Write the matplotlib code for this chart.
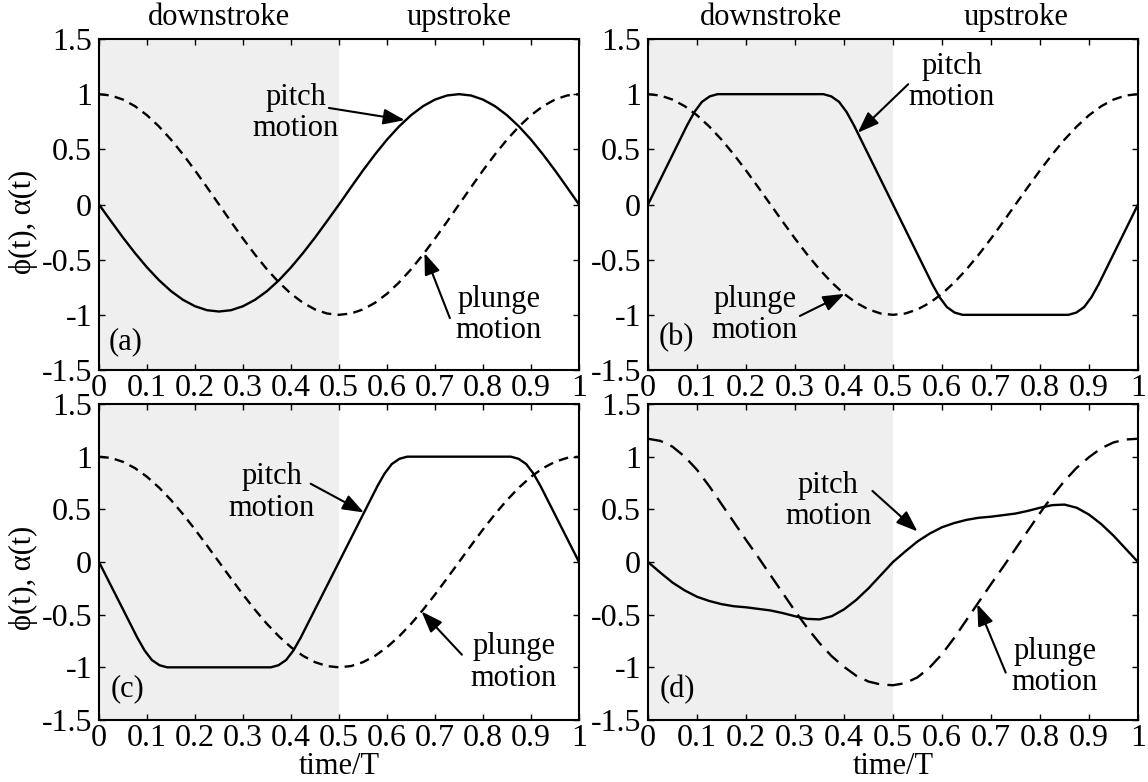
import matplotlib
matplotlib.use("Agg")
import matplotlib.pyplot as plt
import numpy as np

plt.rcParams.update({
    'font.family': ['Liberation Serif', 'DejaVu Serif'],
    'font.size': 22,
    'axes.linewidth': 1.5,
    'lines.scale_dashes': False,
})

# normalised time, 41 samples over one period
t = np.linspace(0, 1, 41)

plunge_sine = [1.0, 0.988, 0.951, 0.891, 0.809, 0.707, 0.588, 0.454, 0.309, 0.156,
               0.0, -0.156, -0.309, -0.454, -0.588, -0.707, -0.809, -0.891, -0.951, -0.988,
               -1.0, -0.988, -0.951, -0.891, -0.809, -0.707, -0.588, -0.454, -0.309, -0.156,
               0.0, 0.156, 0.309, 0.454, 0.588, 0.707, 0.809, 0.891, 0.951, 0.988, 1.0]

pitch_a = [0.0, -0.151, -0.30, -0.44, -0.57, -0.686, -0.785, -0.864, -0.922, -0.958,
           -0.97, -0.958, -0.922, -0.864, -0.785, -0.686, -0.57, -0.44, -0.30, -0.151,
           0.0, 0.156, 0.309, 0.454, 0.588, 0.707, 0.809, 0.891, 0.951, 0.988,
           1.0, 0.988, 0.951, 0.891, 0.809, 0.707, 0.588, 0.454, 0.309, 0.156, 0.0]

# trapezoidal pitch with rounded corners (own time samples)
t_trap = [0, 0.08, 0.095, 0.11, 0.126, 0.142, 0.358, 0.374, 0.39, 0.405, 0.42,
          0.58, 0.595, 0.61, 0.626, 0.642, 0.858, 0.874, 0.89, 0.905, 0.92, 1.0]
pitch_b = [0.0, 0.72, 0.84, 0.93, 0.98, 1.0, 1.0, 0.98, 0.93, 0.84, 0.72,
           -0.72, -0.84, -0.93, -0.98, -1.0, -1.0, -0.98, -0.93, -0.84, -0.72, 0.0]
pitch_c = [0.0, -0.72, -0.84, -0.93, -0.98, -1.0, -1.0, -0.98, -0.93, -0.84, -0.72,
           0.72, 0.84, 0.93, 0.98, 1.0, 1.0, 0.98, 0.93, 0.84, 0.72, 0.0]

pitch_d = [0.0, -0.10, -0.195, -0.27, -0.33, -0.37, -0.40, -0.42, -0.43, -0.445,
           -0.46, -0.485, -0.515, -0.54, -0.545, -0.515, -0.45, -0.36, -0.25, -0.125,
           0.0, 0.10, 0.195, 0.27, 0.33, 0.37, 0.40, 0.42, 0.43, 0.445,
           0.46, 0.485, 0.515, 0.54, 0.545, 0.515, 0.45, 0.36, 0.25, 0.125, 0.0]
plunge_d = [1.17, 1.15, 1.095, 1.0, 0.875, 0.72, 0.55, 0.38, 0.21, 0.045,
            -0.125, -0.295, -0.465, -0.625, -0.77, -0.895, -0.995, -1.08, -1.135, -1.163,
            -1.17, -1.15, -1.095, -1.0, -0.875, -0.72, -0.55, -0.38, -0.21, -0.045,
            0.125, 0.295, 0.465, 0.625, 0.77, 0.895, 0.995, 1.08, 1.135, 1.163, 1.17]

x_ticks = [0, 0.1, 0.2, 0.3, 0.4, 0.5, 0.6, 0.7, 0.8, 0.9, 1]
x_ticklabels = ['0', '0.1', '0.2', '0.3', '0.4', '0.5', '0.6', '0.7', '0.8', '0.9', '1']
y_ticks = [-1.5, -1, -0.5, 0, 0.5, 1, 1.5]
y_ticklabels = ['-1.5', '-1', '-0.5', '0', '0.5', '1', '1.5']

W, H = 1148, 782
fig = plt.figure(figsize=(W / 100, H / 100), dpi=100)

# pixel boxes: left, top, width, height
boxes = {
    'a': (99, 39, 480, 331),
    'b': (648, 39, 490, 331),
    'c': (99, 404, 480, 316),
    'd': (648, 404, 490, 316),
}

panels = [
    # key, (t, pitch), (t, plunge), dashes, pitch text pos, pitch arrow (tail, head),
    # plunge text pos, plunge arrow (tail, head), tag pos
    ('a', (t, pitch_a), (t, plunge_sine), (7, 4.5),
     (0.41, 0.83), ((0.479, 0.875), (0.637, 0.765)),
     (0.833, -1.0), ((0.731, -1.03), (0.678, -0.44)), (0.056, -1.24)),
    ('b', (t_trap, pitch_b), (t, plunge_sine), (7, 4.5),
     (0.62, 1.11), ((0.531, 1.09), (0.428, 0.65)),
     (0.218, -1.0), ((0.31, -1.01), (0.401, -0.81)), (0.057, -1.21)),
    ('c', (t_trap, pitch_c), (t, plunge_sine), (7, 4.5),
     (0.36, 0.66), ((0.441, 0.743), (0.552, 0.47)),
     (0.864, -0.955), ((0.756, -0.88), (0.672, -0.47)), (0.06, -1.2)),
    ('d', (t, pitch_d), (t, plunge_d), (11, 6),
     (0.368, 0.58), ((0.458, 0.675), (0.55, 0.29)),
     (0.83, -1.0), ((0.73, -1.05), (0.672, -0.40)), (0.06, -1.215)),
]

arrow_kw = dict(arrowstyle='-|>,head_length=0.65,head_width=0.24', color='k',
                lw=1.5, mutation_scale=20, shrinkA=0, shrinkB=0)

axes = {}
for key, pitch, plunge, dash, ptxt, parrow, gtxt, garrow, tag in panels:
    l, top, w, h = boxes[key]
    ax = fig.add_axes([l / W, 1 - (top + h) / H, w / W, h / H])
    axes[key] = ax
    ax.axvspan(0, 0.5, color='#efefef', lw=0, zorder=0)
    ax.plot(pitch[0], pitch[1], color='k', lw=1.7, zorder=3)
    ax.plot(plunge[0], plunge[1], color='k', lw=1.7, dashes=dash, zorder=3)

    ax.text(ptxt[0], ptxt[1], 'pitch\nmotion', ha='center', va='center',
            linespacing=1.1)
    ax.annotate('', xy=parrow[1], xytext=parrow[0], arrowprops=arrow_kw, zorder=4)
    ax.text(gtxt[0], gtxt[1], 'plunge\nmotion', ha='center', va='center',
            linespacing=1.1)
    ax.annotate('', xy=garrow[1], xytext=garrow[0], arrowprops=arrow_kw, zorder=4)
    ax.text(tag[0], tag[1], '(%s)' % key, ha='center', va='center')

    ax.set_xlim(0, 1)
    ax.set_ylim(-1.5, 1.5)
    ax.set_xticks(x_ticks)
    ax.set_xticklabels(x_ticklabels)
    ax.set_yticks(y_ticks)
    ax.set_yticklabels(y_ticklabels)
    ax.tick_params(direction='in', top=True, right=True, length=4, width=1,
                   labelsize=23)
    ax.tick_params(axis='x', pad=3)
    ax.tick_params(axis='y', pad=5)

for key in ('a', 'b'):
    axes[key].text(0.25, 1.625, 'downstroke', ha='center', va='baseline')
    axes[key].text(0.75, 1.625, 'upstroke', ha='center', va='baseline')

fig.text(23 / W, 1 - 222 / H, 'ϕ(t), α(t)', rotation=90, ha='center', va='center')
fig.text(23 / W, 1 - 578 / H, 'ϕ(t), α(t)', rotation=90, ha='center', va='center')
fig.text(339 / W, 1 - 767 / H, 'time/T', ha='center', va='center')
fig.text(893 / W, 1 - 767 / H, 'time/T', ha='center', va='center')

fig.savefig('out.png', dpi=100)
